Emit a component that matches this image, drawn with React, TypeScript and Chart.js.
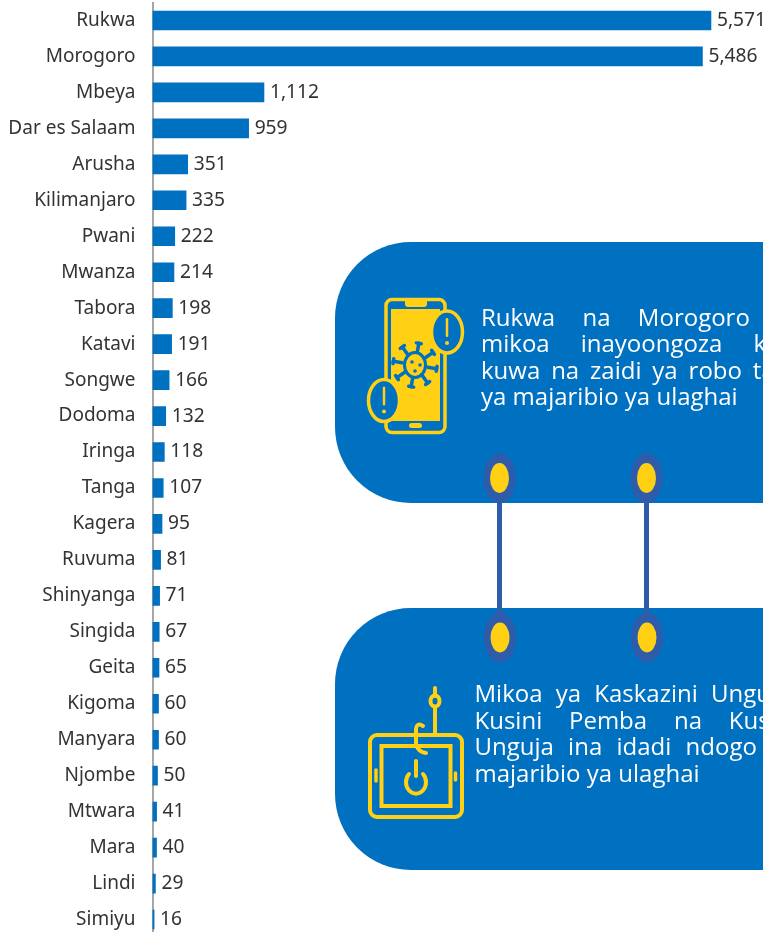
import React, { useEffect, useRef } from "react";
import { Chart, registerables } from "chart.js";

Chart.register(...registerables);

const categories = ["Rukwa","Morogoro","Mbeya","Dar es Salaam","Arusha","Kilimanjaro","Pwani","Mwanza","Tabora","Katavi","Songwe","Dodoma","Iringa","Tanga","Kagera","Ruvuma","Shinyanga","Singida","Geita","Kigoma","Manyara","Njombe","Mtwara","Mara","Lindi","Simiyu"];
const values = [5571,5486,1112,959,351,335,222,214,198,191,166,132,118,107,95,81,71,67,65,60,60,50,41,40,29,16];
const panelTop = ["Rukwa na Morogoro ni", "mikoa inayoongoza kwa", "kuwa na zaidi ya robo tatu", "ya majaribio ya ulaghai"];
const panelBottom = ["Mikoa ya Kaskazini Unguja,", "Kusini Pemba na Kusini", "Unguja ina idadi ndogo ya", "majaribio ya ulaghai"];

const FONT = '"Noto Sans"';
const BLUE = "#0070C0";
const YELLOW = "#FFD014";
const LINK = "#2E5CAB";
const TEXT = "#333333";

const valueLabels = {
  id: "valueLabels",
  afterDatasetsDraw(chart: any) {
    const { ctx } = chart;
    const meta = chart.getDatasetMeta(0);
    ctx.save();
    ctx.font = `19.2px ${FONT}`;
    ctx.fillStyle = TEXT;
    ctx.textBaseline = "middle";
    ctx.textAlign = "left";
    meta.data.forEach((bar: any, i: number) => {
      ctx.fillText(values[i].toLocaleString("en-US"), bar.x + 6, bar.y);
    });
    ctx.restore();
  },
};

const spikes = [0, 45, 90, 135, 180, 225, 270, 315];

function PanelText({ left, top, width, lines }: { left: number; top: number; width: number; lines: string[] }) {
  return (
    <div
      style={{
        position: "absolute",
        left,
        top,
        width,
        color: "#FFFFFF",
        fontFamily: '"Open Sans"',
        fontSize: 24,
        lineHeight: "26.6px",
        whiteSpace: "nowrap",
      }}
    >
      {lines.map((line, i) => (
        <div key={i} style={{ textAlign: "justify", textAlignLast: i === lines.length - 1 ? "left" : "justify", whiteSpace: "normal" }}>
          {line}
        </div>
      ))}
    </div>
  );
}

export default function App() {
  const ref = useRef<HTMLCanvasElement | null>(null);

  useEffect(() => {
    document.body.style.margin = "0";
    const chart = new Chart(ref.current as HTMLCanvasElement, {
      type: "bar",
      data: {
        labels: categories,
        datasets: [{ data: values, backgroundColor: BLUE, barThickness: 19 }],
      },
      options: {
        indexAxis: "y",
        animation: false,
        responsive: false,
        layout: { padding: { top: 2.5, bottom: 1.5 } },
        plugins: { legend: { display: false }, tooltip: { enabled: false } },
        scales: {
          x: { display: false, min: 0, max: 6090 },
          y: {
            afterFit: (s: any) => {
              s.width = 152.5;
              s.paddingTop = 0;
              s.paddingBottom = 0;
            },
            grid: { display: false, drawTicks: false },
            border: { color: "#A6A6A6", width: 2 },
            ticks: {
              color: TEXT,
              padding: 17,
              autoSkip: false,
              font: { family: FONT, size: 19 },
            },
          },
        },
      },
      plugins: [valueLabels],
    } as any);
    return () => chart.destroy();
  }, []);

  return (
    <div style={{ position: "relative", width: 763, height: 932, overflow: "hidden", background: "#FFFFFF" }}>
      <canvas ref={ref} width={763} height={939} style={{ position: "absolute", left: 0, top: 0, display: "block" }} />
      <svg width={763} height={932} style={{ position: "absolute", left: 0, top: 0 }}>
        <rect x={335} y={242} width={700} height={261} rx={76} fill={BLUE} />
        <rect x={335} y={608} width={700} height={262} rx={76} fill={BLUE} />
        {[[499.5, 500], [646.5, 647]].map(([a, b], i) => (
          <g key={i}>
            <rect x={a - 2.5} y={490} width={5} height={135} fill={LINK} />
            <ellipse cx={a} cy={478} rx={16} ry={25} fill={LINK} />
            <ellipse cx={a} cy={478} rx={9.5} ry={15} fill={YELLOW} />
            <ellipse cx={b} cy={637.5} rx={16} ry={25} fill={LINK} />
            <ellipse cx={b} cy={637.5} rx={9.5} ry={15} fill={YELLOW} />
          </g>
        ))}
        {/* phone icon */}
        <rect x={386} y={299.5} width={59} height={133} rx={6} fill="none" stroke={YELLOW} strokeWidth={3.5} />
        <rect x={405} y={298} width={22} height={9} rx={3} fill={YELLOW} />
        <rect x={391} y={309} width={49} height={112} fill={YELLOW} />
        <rect x={409} y={423} width={13} height={5} rx={2.5} fill={YELLOW} />
        <g stroke={BLUE} strokeWidth={3.5} strokeLinecap="round" fill="none">
          {spikes.map((d) => (
            <g key={d} transform={`rotate(${d + 10} 415 365)`}>
              <line x1={415} y1={352} x2={415} y2={343} />
              <line x1={412.5} y1={343} x2={417.5} y2={343} />
            </g>
          ))}
          <ellipse cx={415} cy={365} rx={10.5} ry={12.5} strokeWidth={3} fill={YELLOW} />
        </g>
        <g fill={BLUE}>
          <circle cx={412} cy={362} r={1.8} />
          <circle cx={420} cy={365} r={1.8} />
          <circle cx={415} cy={371} r={1.8} />
        </g>
        {[[447, 332], [384, 400.5]].map(([cx, cy], i) => (
          <g key={i}>
            <ellipse cx={cx} cy={cy} rx={15.5} ry={21} fill={BLUE} stroke={YELLOW} strokeWidth={3.5} />
            <rect x={cx - 1.25} y={cy - 14} width={2.5} height={19} rx={1.25} fill={YELLOW} />
            <circle cx={cx} cy={cy + 11} r={2} fill={YELLOW} />
          </g>
        ))}
        {/* tablet + hook icon */}
        <g fill="none" stroke={YELLOW} strokeWidth={4} strokeLinecap="round">
          <rect x={370} y={735} width={92} height={82} rx={7} />
          <rect x={381.5} y={746} width={69} height={60} />
          <line x1={376} y1={770} x2={376} y2={781} strokeWidth={3.5} />
          <line x1={455.5} y1={773} x2={455.5} y2={780} strokeWidth={3.5} />
          <path d="M409 774 A 10 11.5 0 1 0 423 774" />
          <line x1={416} y1={761} x2={416} y2={776} />
          <line x1={435} y1={733} x2={435} y2={707} />
          <line x1={435} y1={696} x2={435} y2={688} />
          <ellipse cx={435} cy={701} rx={4.5} ry={5.5} />
          <path d="M423 726 Q417 722 416 729 L416 744 Q418 752 426 753" />
        </g>
      </svg>
      <PanelText left={481} top={303.5} width={317} lines={panelTop} />
      <PanelText left={474.5} top={680} width={322} lines={panelBottom} />
    </div>
  );
}
